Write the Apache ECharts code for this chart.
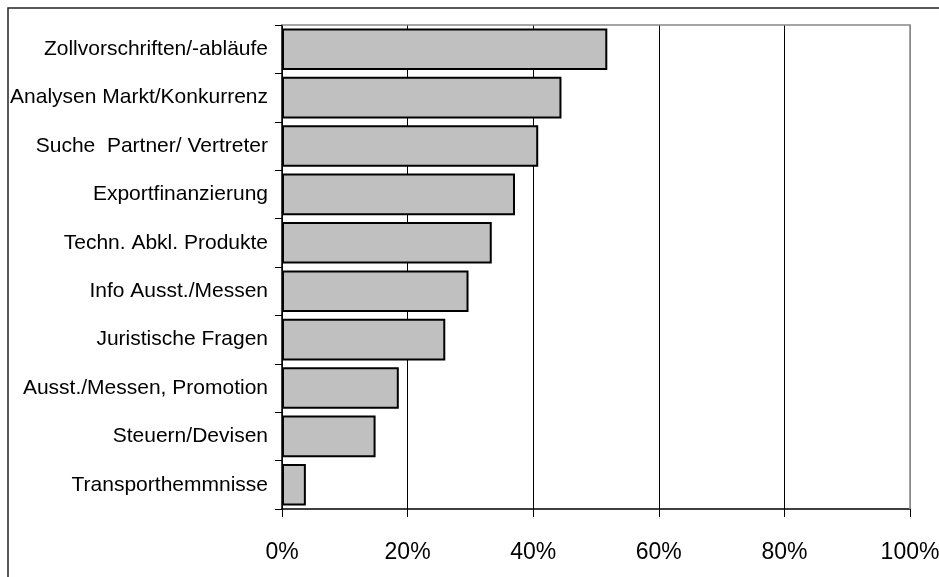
<!DOCTYPE html>
<html>
<head>
<meta charset="utf-8">
<script src="https://cdn.jsdelivr.net/npm/echarts@6/dist/echarts.min.js"></script>
<style>
  html, body { margin: 0; padding: 0; background: #fff; }
  #chart { width: 939px; height: 577px; }
</style>
</head>
<body>
<div id="chart"></div>
<script>
// Kategorien (von oben nach unten)
const categories = [
  'Zollvorschriften/-abläufe',
  'Analysen Markt/Konkurrenz',
  'Suche  Partner/ Vertreter',
  'Exportfinanzierung',
  'Techn. Abkl. Produkte',
  'Info Ausst./Messen',
  'Juristische Fragen',
  'Ausst./Messen, Promotion',
  'Steuern/Devisen',
  'Transporthemmnisse'
];
// Anteile in %
const values = [51.8, 44.5, 40.8, 37.1, 33.4, 29.7, 26.0, 18.6, 14.9, 3.8];
const xTicks = [0, 20, 40, 60, 80, 100];

const chart = echarts.init(document.getElementById('chart'));
chart.setOption({
  animation: false,
  backgroundColor: '#fff',
  textStyle: { fontFamily: 'Liberation Sans, Arial, sans-serif' },
  graphic: [
    // äusserer Rahmen (nur oben/links sichtbar)
    {
      type: 'polyline',
      shape: { points: [[8, 600], [8, 8], [960, 8]] },
      style: { stroke: '#222', lineWidth: 1.5, fill: null }
    },
    // Plotrahmen oben/rechts in grau
    {
      type: 'polyline',
      shape: { points: [[282, 25], [910, 25], [910, 509]] },
      style: { stroke: '#888', lineWidth: 1.5, fill: null },
      z: 1
    }
  ],
  grid: { left: 282, right: 29, top: 25, bottom: 68, containLabel: false, outerBoundsMode: 'none' },
  xAxis: {
    type: 'value',
    min: 0,
    max: 100,
    interval: 20,
    axisLine: { show: true, lineStyle: { color: '#000', width: 1.5 } },
    axisTick: { show: true, length: 8, lineStyle: { color: '#000', width: 1 } },
    splitLine: {
      show: true,
      // letzte Linie (100%) grau wie der Plotrahmen
      lineStyle: { color: ['#000', '#000', '#000', '#000', '#000', '#888'], width: 1 }
    },
    axisLabel: {
      color: '#000',
      fontSize: 23,
      margin: 32,
      formatter: function (v) { return xTicks.indexOf(v) >= 0 ? v + '%' : ''; }
    }
  },
  yAxis: {
    type: 'category',
    inverse: true,
    data: categories,
    axisLine: { show: true, lineStyle: { color: '#000', width: 1.5 } },
    axisTick: { show: true, length: 7, alignWithLabel: false, lineStyle: { color: '#000', width: 1 } },
    axisLabel: { color: '#000', fontSize: 21, margin: 14 },
    splitLine: { show: false }
  },
  series: [{
    type: 'bar',
    data: values,
    barCategoryGap: '14%',
    itemStyle: { color: '#c0c0c0', borderColor: '#000', borderWidth: 2 },
    z: 3
  }]
});
</script>
</body>
</html>
